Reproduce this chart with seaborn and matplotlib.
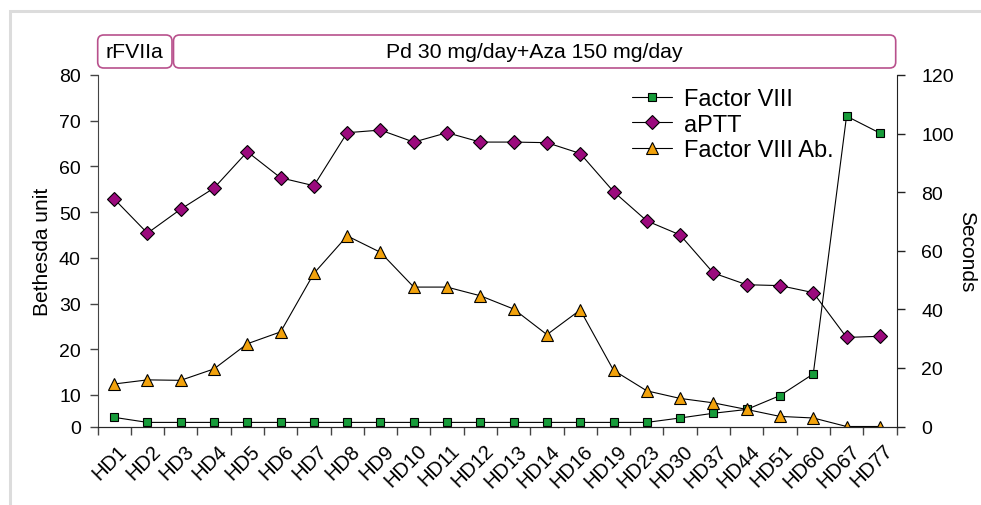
import numpy as np
import pandas as pd
import matplotlib
matplotlib.use("Agg")
import matplotlib.pyplot as plt
import seaborn as sns
from matplotlib.patches import FancyBboxPatch, Rectangle
from matplotlib.ticker import FixedLocator
from matplotlib.transforms import ScaledTranslation

# values
days = ["HD1", "HD2", "HD3", "HD4", "HD5", "HD6", "HD7", "HD8", "HD9", "HD10",
        "HD11", "HD12", "HD13", "HD14", "HD16", "HD19", "HD23", "HD30", "HD37",
        "HD44", "HD51", "HD60", "HD67", "HD77"]
factor8 = [2.9, 1.3, 1.3, 1.3, 1.3, 1.3, 1.3, 1.3, 1.3, 1.3, 1.3, 1.3, 1.3,
           1.3, 1.3, 1.3, 1.3, 2.7, 4.2, 5.4, 9.8, 14.6, 71.0, 67.3]
factor8_ab = [12.4, 13.3, 13.2, 15.7, 21.2, 23.8, 36.6, 44.8, 41.2, 33.6, 33.6,
              31.7, 28.8, 23.2, 28.6, 15.4, 10.9, 8.9, 7.5, 5.4, 3.2, 2.7, 0.0, 0.0]
aptt = [77.7, 66.0, 74.2, 81.4, 93.8, 84.9, 82.2, 100.3, 101.2, 97.1, 100.3,
        97.1, 97.1, 96.9, 93.2, 80.2, 70.2, 65.4, 52.4, 48.4, 48.1, 45.7, 30.4, 30.8]

sns.set_style("ticks")
plt.rcParams["font.family"] = ["Liberation Sans", "DejaVu Sans"]
plt.rcParams.update({"text.color": "black", "axes.labelcolor": "black",
                     "xtick.labelcolor": "black", "ytick.labelcolor": "black"})

fig, ax = plt.subplots(figsize=(9.81, 5.06), dpi=100)
fig.subplots_adjust(left=97.5 / 981, right=896.5 / 981,
                    bottom=(506 - 427.5) / 506, top=(506 - 76) / 506)
ax2 = ax.twinx()

line_kw = dict(color="black", linewidth=0.8, markeredgecolor="black",
               markeredgewidth=0.8, sort=False)
sns.lineplot(x=days, y=factor8, ax=ax, marker="s", markersize=6.3,
             markerfacecolor="#179c3a", label="Factor VIII", **line_kw)
sns.lineplot(x=days, y=factor8_ab, ax=ax, marker="^", markersize=8,
             markerfacecolor="#f2a20c", label="Factor VIII Ab.", **line_kw)
sns.lineplot(x=days, y=aptt, ax=ax2, marker="D", markersize=7,
             markerfacecolor="#9b0a7d", label="aPTT", **line_kw)

# left axis: bottom 0-10 segment is compressed
def fwd(v):
    v = np.asarray(v, dtype=float)
    return np.where(v < 10, v * 0.69, 6.9 + (v - 10))

def inv(u):
    u = np.asarray(u, dtype=float)
    return np.where(u < 6.9, u / 0.69, u - 6.9 + 10)

ax.set_yscale("function", functions=(fwd, inv))
ax.set_ylim(0, 80)
ax.set_yticks(range(0, 81, 10))
ax2.set_ylim(0, 120)
ax2.set_yticks(range(0, 121, 20))

# x axis: categories with ticks on the boundaries
ax.set_xlim(-0.5, len(days) - 0.5)
ax.set_xticks(range(len(days)))
ax.set_xticklabels(days, rotation=45, ha="right", va="center",
                   rotation_mode="anchor", fontsize=14.5)
ax.xaxis.set_minor_locator(FixedLocator(np.arange(-0.5, len(days), 1)))
ax.tick_params(axis="x", which="major", length=0, pad=15)
ax.tick_params(axis="x", which="minor", length=6, width=1, color="#444444")
shift = ScaledTranslation(10 / 100, 0, fig.dpi_scale_trans)
for lbl in ax.get_xticklabels():
    lbl.set_transform(lbl.get_transform() + shift)
ax.set_xlabel("")

ax.tick_params(axis="y", labelsize=14, length=6, width=1, pad=6, color="#444444")
ax2.tick_params(axis="y", labelsize=14, length=6, width=1, pad=12, color="#222222")
ax.set_ylabel("Bethesda unit", fontsize=15, labelpad=5)
ax2.set_ylabel("Seconds", fontsize=15, rotation=270, labelpad=16)

for a in (ax, ax2):
    a.spines["top"].set_visible(False)
ax.spines["right"].set_visible(False)
ax2.spines["left"].set_visible(False)
ax.spines["left"].set_color("#444444")
ax.spines["bottom"].set_color("#444444")
ax2.spines["right"].set_color("#222222")

# combined legend
h1, l1 = ax.get_legend_handles_labels()
h2, l2 = ax2.get_legend_handles_labels()
ax.get_legend().remove()
ax2.get_legend().remove()
fig.legend([h1[0], h2[0], h1[1]], [l1[0], l2[0], l1[1]],
           loc="upper left", bbox_to_anchor=(632 / 981, 1 - 89 / 506),
           frameon=False, fontsize=17, handlelength=1.7, handletextpad=0.5,
           labelspacing=0.15, borderpad=0, borderaxespad=0)

# treatment boxes above the plot
edge = "#b8508c"
for x0, x1, text in [(97.7, 172.0, "rFVIIa"),
                     (173.5, 895.7, "Pd 30 mg/day+Aza 150 mg/day")]:
    box = FancyBboxPatch((x0 / 100, (506 - 69) / 100), (x1 - x0) / 100, 0.33,
                         boxstyle="round,pad=0,rounding_size=0.06",
                         transform=fig.dpi_scale_trans, fc="white", ec=edge, lw=1.2)
    fig.add_artist(box)
    fig.text((x0 + x1) / 2 / 981, 1 - 52.5 / 506, text,
             ha="center", va="center", fontsize=15.3)

# light frame around the figure
fig.add_artist(Rectangle((10 / 100, -0.5), 10, (506 - 12) / 100 + 0.5,
                         transform=fig.dpi_scale_trans, fill=False,
                         ec="#dcdcdc", lw=2.2))

fig.savefig("out.png", dpi=100)
